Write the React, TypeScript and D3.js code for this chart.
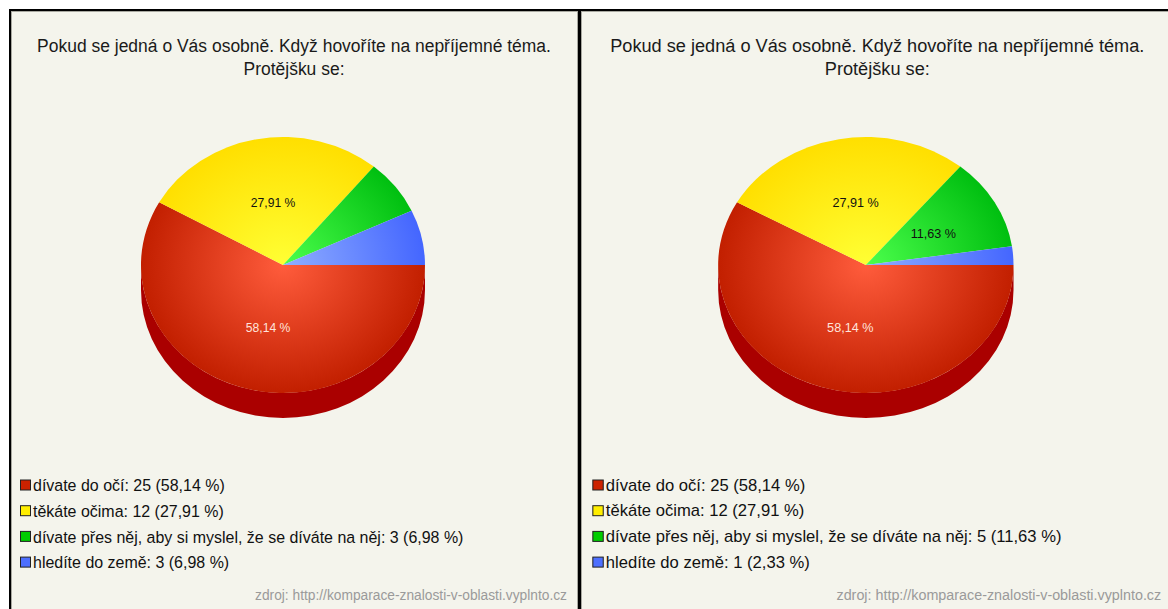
import React from "react";
import * as d3 from "d3";

// ---------- data ----------
const categories = [
  "dívate do očí",
  "těkáte očima",
  "dívate přes něj, aby si myslel, že se díváte na něj",
  "hledíte do země",
];
const leftCounts = [25, 12, 3, 3];
const rightCounts = [25, 12, 5, 1];
const titleLines = [
  "Pokud se jedná o Vás osobně. Když hovoříte na nepříjemné téma.",
  "Protějšku se:",
];
const sourceText = "zdroj: http://komparace-znalosti-v-oblasti.vyplnto.cz";

// ---------- styles ----------
const topInner = ["#ff5c3c", "#ffff34", "#4cff4c", "#90aeff"];
const topOuter = ["#c21f00", "#ffdf00", "#00bf10", "#4466ff"];
const sideColors = ["#aa0000", "#c8a800", "#009000", "#2244cc"];
const legendColors = ["#cc2200", "#ffee00", "#00cc00", "#4d6fff"];
const FONT = "'Liberation Sans', Arial, sans-serif";
const BG = "#f4f4ec";

const fmtPct = (v: number) => d3.format(".2f")(v).replace(".", ",");

function CText({ x, y, size, squeeze, anchor = "start", fill, children }: any) {
  return (
    <g transform={`translate(${x},${y}) scale(${squeeze},1)`}>
      <text x={0} y={0} textAnchor={anchor} dominantBaseline="central" fontFamily={FONT} fontSize={size} fill={fill}>
        {children}
      </text>
    </g>
  );
}

function Panel({ id, x0, sx, counts }: { id: string; x0: number; sx: number; counts: number[] }) {
  const total = d3.sum(counts);
  const pct = counts.map((c) => (c / total) * 100);
  const arcs = d3
    .pie<number>()
    .sort(null)
    .startAngle(Math.PI / 2)
    .endAngle(Math.PI / 2 + 2 * Math.PI)(counts);

  const cx = 271, cy = 265, rx = 142, ry = 128, depth = 25;
  const pt = (a: number, dy = 0): [number, number] => [cx + rx * Math.sin(a), cy - ry * Math.cos(a) + dy];

  const topPath = (a0: number, a1: number) => {
    const p0 = pt(a0), p1 = pt(a1);
    const large = a1 - a0 > Math.PI ? 1 : 0;
    return `M${cx},${cy}L${p0[0]},${p0[1]}A${rx},${ry} 0 ${large} 1 ${p1[0]},${p1[1]}Z`;
  };
  const sidePath = (s0: number, s1: number) => {
    const p0 = pt(s0), p1 = pt(s1), q1 = pt(s1, depth), q0 = pt(s0, depth);
    const large = s1 - s0 > Math.PI ? 1 : 0;
    return `M${p0[0]},${p0[1]}A${rx},${ry} 0 ${large} 1 ${p1[0]},${p1[1]}L${q1[0]},${q1[1]}A${rx},${ry} 0 ${large} 0 ${q0[0]},${q0[1]}Z`;
  };

  const legendY = d3.scaleLinear().domain([0, 1]).range([485, 510.7]);

  return (
    <g transform={`translate(${x0},0) scale(${sx},1)`}>
      <defs>
        {arcs.map((a, i) => (
          <radialGradient
            key={i}
            id={`${id}-g${i}`}
            gradientUnits="userSpaceOnUse"
            cx={cx}
            cy={cy}
            r={rx}
            gradientTransform={`translate(${cx},${cy}) scale(1,${ry / rx}) translate(${-cx},${-cy})`}
          >
            <stop offset="0" stopColor={topInner[i]} />
            <stop offset="1" stopColor={topOuter[i]} />
          </radialGradient>
        ))}
      </defs>
      {titleLines.map((t, i) => (
        <CText key={i} x={282} y={45 + i * 23} size={19} squeeze={0.92} anchor="middle" fill="#1a1a1a">
          {t}
        </CText>
      ))}
      {/* sides */}
      {arcs.map((a, i) => {
        const s0 = Math.max(a.startAngle, Math.PI / 2);
        const s1 = Math.min(a.endAngle, (3 * Math.PI) / 2);
        if (s1 <= s0) return null;
        return <path key={i} d={sidePath(s0, s1)} fill={sideColors[i]} />;
      })}
      {/* top faces */}
      {arcs.map((a, i) => (
        <path key={i} d={topPath(a.startAngle, a.endAngle)} fill={`url(#${id}-g${i})`} />
      ))}
      {/* labels */}
      {arcs.map((a, i) => {
        if (pct[i] < 10) return null;
        const m = (a.startAngle + a.endAngle) / 2;
        const x = cx + rx * 0.5 * Math.sin(m) + 3;
        const y = cy - ry * 0.5 * Math.cos(m);
        return (
          <CText key={i} x={x} y={y} size={13.5} squeeze={0.9} anchor="middle" fill={i === 0 ? "#ffe4dc" : "#111"}>
            {`${fmtPct(pct[i])} %`}
          </CText>
        );
      })}
      {/* legend */}
      {categories.map((c, i) => {
        const y = legendY(i);
        return (
          <g key={i}>
            <rect x={8.5} y={y - 5} width={10} height={10} fill={legendColors[i]} stroke="#222" strokeWidth={1} />
            <CText x={21} y={y} size={17} squeeze={0.94} fill="#111">
              {`${c}: ${counts[i]} (${fmtPct(pct[i])} %)`}
            </CText>
          </g>
        );
      })}
      <CText x={555} y={595} size={14.5} squeeze={0.95} anchor="end" fill="#9a9a9a">
        {sourceText}
      </CText>
    </g>
  );
}

export default function App() {
  return (
    <svg width={1168} height={609} style={{ position: "absolute", left: 0, top: 0, display: "block" }}>
      <rect x={0} y={0} width={1168} height={609} fill="#fff" />
      <rect x={9} y={9} width={1159} height={600} fill="#000" />
      <rect x={11} y={11} width={567} height={598} fill="#a8a8a0" />
      <rect x={12} y={12} width={565} height={597} fill={BG} />
      <rect x={581} y={11} width={587} height={598} fill="#a8a8a0" />
      <rect x={582} y={12} width={586} height={597} fill={BG} />
      <Panel id="L" x0={12} sx={1} counts={leftCounts} />
      <Panel id="R" x0={584} sx={1.04} counts={rightCounts} />
    </svg>
  );
}
